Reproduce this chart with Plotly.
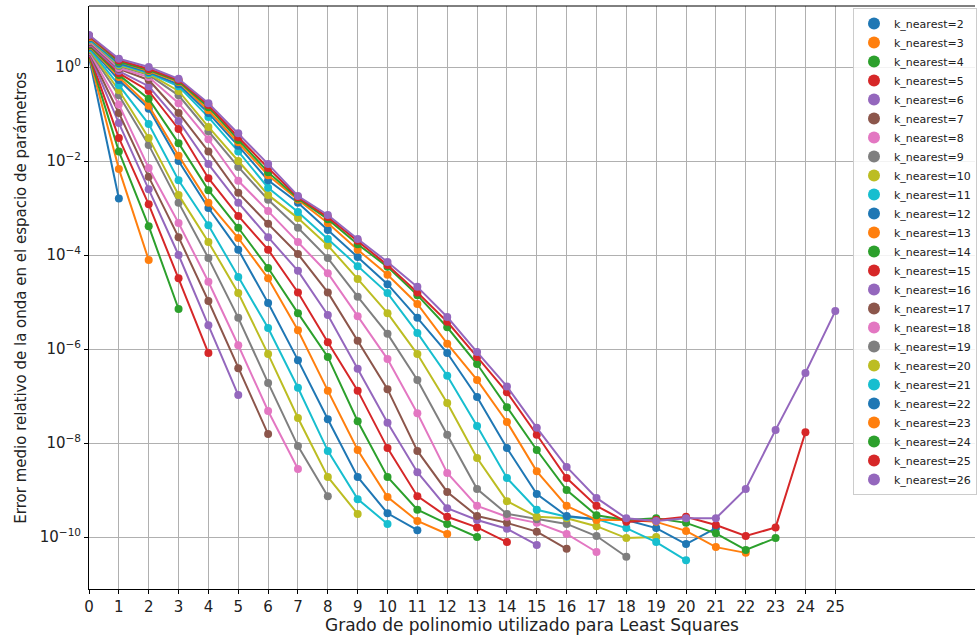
import plotly.graph_objects as go

# Mean relative wave error in parameter space vs. degree of the Least Squares polynomial,
# one series per number of nearest neighbours (k_nearest = 2 ... 26).
grados = list(range(26))
k_values = list(range(2, 27))

# y-axis ticks: every second decade
y_tick_exponents = [0, -2, -4, -6, -8, -10]

err_k02 = [1.6, 1.6e-3]
err_k03 = [1.7, 6.8e-3, 7.8e-5]
err_k04 = [1.8, 0.016, 4.1e-4, 7.1e-6]
err_k05 = [1.9, 0.031, 1.2e-3, 3.2e-5, 8.2e-7]
err_k06 = [2.0, 0.064, 2.5e-3, 1.0e-4, 3.2e-6, 1.05e-7]
err_k07 = [2.1, 0.105, 4.6e-3, 2.4e-4, 1.05e-5, 3.9e-7, 1.55e-8]
err_k08 = [2.2, 0.16, 7.1e-3, 4.8e-4, 2.7e-5, 1.2e-6, 4.8e-8, 2.8e-9]
err_k09 = [2.3, 0.25, 0.022, 1.3e-3, 8.6e-5, 4.6e-6, 1.9e-7, 8.6e-9, 7.4e-10]
err_k10 = [2.4, 0.32, 0.031, 1.9e-3, 1.9e-4, 1.55e-5, 7.8e-7, 3.4e-8, 1.9e-9, 3.1e-10]
err_k11 = [2.5, 0.41, 0.061, 3.9e-3, 4.3e-4, 3.4e-5, 2.8e-6, 1.5e-7, 6.8e-9, 6.4e-10, 1.9e-10]
err_k12 = [2.7, 0.53, 0.13, 0.010, 1.0e-3, 1.3e-4, 9.5e-6, 5.8e-7, 3.2e-8, 1.9e-9, 3.2e-10,
           1.4e-10]
err_k13 = [2.8, 0.61, 0.15, 0.013, 1.3e-3, 2.3e-4, 3.2e-5, 2.5e-6, 1.3e-7, 7.1e-9, 7.1e-10,
           2.2e-10, 1.16e-10]
err_k14 = [2.9, 0.68, 0.21, 0.024, 2.4e-3, 3.8e-4, 5.3e-5, 5.8e-6, 6.8e-7, 2.9e-8, 1.9e-9,
           3.8e-10, 1.9e-10, 1.0e-10]
err_k15 = [3.1, 0.74, 0.31, 0.048, 4.3e-3, 6.8e-4, 1.3e-4, 1.6e-5, 1.4e-6, 1.3e-7, 7.8e-9,
           7.4e-10, 2.7e-10, 1.6e-10, 7.8e-11]
err_k16 = [3.2, 0.82, 0.39, 0.071, 8.6e-3, 1.3e-3, 2.4e-4, 4.6e-5, 5.3e-6, 3.8e-7, 2.7e-8,
           2.4e-9, 4.1e-10, 2.3e-10, 1.5e-10, 6.8e-11]
err_k17 = [3.4, 0.91, 0.53, 0.105, 0.016, 2.1e-3, 4.6e-4, 1.05e-4, 1.6e-5, 1.5e-6, 1.4e-7,
           6.8e-9, 9.1e-10, 2.8e-10, 2.0e-10, 1.3e-10, 5.6e-11]
err_k18 = [3.6, 0.95, 0.61, 0.17, 0.029, 3.8e-3, 8.6e-4, 1.9e-4, 4.1e-5, 5.0e-6, 6.1e-7,
           4.3e-8, 2.3e-9, 4.6e-10, 2.7e-10, 2.0e-10, 1.16e-10, 4.8e-11]
err_k19 = [3.8, 1.05, 0.68, 0.25, 0.043, 7.5e-3, 1.5e-3, 3.8e-4, 8.6e-5, 1.3e-5, 2.1e-6,
           2.2e-7, 1.5e-8, 1.05e-9, 3.1e-10, 2.4e-10, 1.9e-10, 1.05e-10, 3.8e-11]
err_k20 = [3.8, 1.1, 0.71, 0.31, 0.053, 0.010, 1.9e-3, 6.1e-4, 1.6e-4, 3.1e-5, 5.8e-6,
           7.8e-7, 7.1e-8, 4.8e-9, 5.8e-10, 2.7e-10, 2.5e-10, 1.7e-10, 9.5e-11, 1.0e-10]
err_k21 = [3.9, 1.16, 0.74, 0.39, 0.086, 0.016, 2.7e-3, 8.2e-4, 2.2e-4, 5.8e-5, 1.55e-5,
           2.2e-6, 2.7e-7, 2.3e-8, 1.8e-9, 3.8e-10, 2.7e-10, 2.4e-10, 1.55e-10, 7.8e-11, 3.2e-11]
err_k22 = [4.1, 1.2, 0.78, 0.43, 0.105, 0.021, 3.9e-3, 1.3e-3, 3.4e-4, 9.1e-5, 2.4e-5,
           4.6e-6, 8.2e-7, 9.5e-8, 7.8e-9, 8.2e-10, 2.8e-10, 2.4e-10, 2.3e-10, 1.55e-10,
           7.1e-11, 1.55e-10]
err_k23 = [4.3, 1.3, 0.82, 0.48, 0.12, 0.025, 5.0e-3, 1.5e-3, 4.8e-4, 1.3e-4, 3.8e-5,
           9.1e-6, 1.3e-6, 2.2e-7, 2.8e-8, 2.5e-9, 4.6e-10, 2.3e-10, 2.3e-10, 2.1e-10,
           1.35e-10, 6.1e-11, 4.6e-11]
err_k24 = [4.6, 1.3, 0.86, 0.50, 0.14, 0.028, 5.8e-3, 1.6e-3, 5.8e-4, 1.7e-4, 5.6e-5,
           1.4e-5, 2.9e-6, 4.8e-7, 5.8e-8, 7.1e-9, 1.0e-9, 2.9e-10, 2.3e-10, 2.5e-10,
           2.0e-10, 1.2e-10, 5.3e-11, 9.5e-11]
err_k25 = [4.6, 1.4, 0.91, 0.53, 0.155, 0.032, 7.1e-3, 1.7e-3, 6.4e-4, 2.0e-4, 6.1e-5,
           1.6e-5, 3.8e-6, 6.8e-7, 1.2e-7, 1.5e-8, 1.8e-9, 4.6e-10, 2.1e-10, 2.3e-10,
           2.7e-10, 1.8e-10, 1.05e-10, 1.6e-10, 1.7e-8]
err_k26 = [4.8, 1.5, 1.0, 0.56, 0.17, 0.039, 8.6e-3, 1.8e-3, 7.1e-4, 2.2e-4, 7.1e-5,
           2.1e-5, 4.8e-6, 8.6e-7, 1.6e-7, 2.1e-8, 3.1e-9, 6.8e-10, 2.5e-10, 2.2e-10,
           2.5e-10, 2.5e-10, 1.05e-9, 1.9e-8, 3.1e-7, 6.4e-6]

series = [err_k02, err_k03, err_k04, err_k05, err_k06, err_k07, err_k08, err_k09,
          err_k10, err_k11, err_k12, err_k13, err_k14, err_k15, err_k16, err_k17,
          err_k18, err_k19, err_k20, err_k21, err_k22, err_k23, err_k24, err_k25,
          err_k26]

palette = ["#1f77b4", "#ff7f0e", "#2ca02c", "#d62728", "#9467bd",
           "#8c564b", "#e377c2", "#7f7f7f", "#bcbd22", "#17becf"]

FONT = "DejaVu Sans"

fig = go.Figure()
for i, (k, err) in enumerate(zip(k_values, series)):
    color = palette[i % len(palette)]
    xs = grados[:len(err)]
    fig.add_trace(go.Scatter(
        x=xs, y=err, mode="lines",
        line=dict(color=color, width=2),
        showlegend=False, hoverinfo="skip",
    ))
    fig.add_trace(go.Scatter(
        x=xs, y=err, mode="markers",
        marker=dict(color=color, size=8, line=dict(width=0)),
        name=f"k_nearest={k}",
    ))

fig.update_layout(
    width=977, height=635,
    margin=dict(l=89, r=0, t=6, b=46),
    paper_bgcolor="white", plot_bgcolor="white",
    font=dict(family=FONT, size=15, color="#222222"),
    legend=dict(
        x=0.8626, y=0.9966, xanchor="left", yanchor="top",
        bgcolor="rgba(255,255,255,0.85)", bordercolor="#cccccc", borderwidth=1,
        font=dict(family=FONT, size=11, color="#222222"),
        tracegroupgap=0, itemsizing="constant",
    ),
    shapes=[dict(type="line", xref="paper", yref="paper", x0=0, x1=1, y0=1, y1=1,
                 line=dict(color="black", width=1))],
    annotations=[dict(
        text="Error medio relativo de la onda en el espacio de parámetros",
        xref="paper", yref="paper", x=-0.0777, y=0.5,
        xanchor="center", yanchor="middle", textangle=-90, showarrow=False,
        font=dict(family=FONT, size=15, color="#222222"),
    )],
)

fig.update_xaxes(
    range=[0, 29.68], tickmode="array", tickvals=grados,
    ticks="outside", ticklen=4, tickcolor="black",
    showline=True, linecolor="black", linewidth=1,
    showgrid=True, gridcolor="#b0b0b0", gridwidth=1, zeroline=False,
    tickfont=dict(size=15),
    title=dict(text="Grado de polinomio utilizado para Least Squares",
               font=dict(size=17), standoff=2),
)
fig.update_yaxes(
    type="log", range=[-11.106, 1.298],
    tickmode="array",
    tickvals=[10.0 ** e for e in y_tick_exponents],
    ticktext=[f"10<sup>{str(e).replace('-', '−')}</sup>" for e in y_tick_exponents],
    ticks="outside", ticklen=4, tickcolor="black",
    showline=True, linecolor="black", linewidth=1,
    showgrid=True, gridcolor="#b0b0b0", gridwidth=1, zeroline=False,
    tickfont=dict(size=15),
)

fig.write_html("out.html")
